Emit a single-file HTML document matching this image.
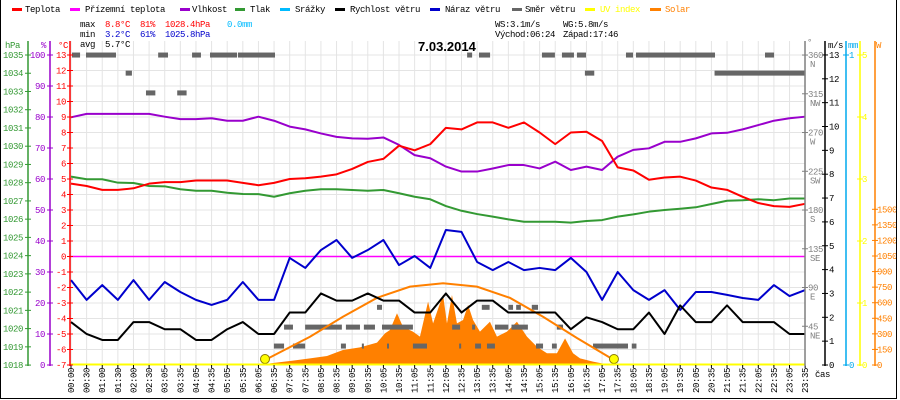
<!DOCTYPE html>
<html><head><meta charset="utf-8">
<style>
body{margin:0;background:#fff;}
svg{display:block;font-family:"Liberation Mono","DejaVu Sans Mono",monospace;font-size:9px;}
text{letter-spacing:-0.4px;}
</style></head>
<body>
<svg id="chart" width="900" height="400" viewBox="0 0 900 400">
<rect x="0" y="0" width="900" height="400" fill="#fff"/>
<g id="grid"></g>
<g id="series"></g>
<g id="axes"></g>
<g id="legend">
  <rect x="12" y="8" width="10" height="3" fill="#ff0000"/>
  <text x="25" y="12">Teplota</text>
  <rect x="70" y="8" width="10" height="3" fill="#ff00ff"/>
  <text x="85" y="12">Přízemní teplota</text>
  <rect x="180" y="8" width="10" height="3" fill="#9900cc"/>
  <text x="192" y="12">Vlhkost</text>
  <rect x="235" y="8" width="10" height="3" fill="#339933"/>
  <text x="250" y="12">Tlak</text>
  <rect x="280" y="8" width="10" height="3" fill="#00bbff"/>
  <text x="295" y="12">Srážky</text>
  <rect x="335" y="8" width="10" height="3" fill="#000"/>
  <text x="350" y="12">Rychlost větru</text>
  <rect x="430" y="8" width="10" height="3" fill="#0000cc"/>
  <text x="445" y="12">Náraz větru</text>
  <rect x="512" y="8" width="10" height="3" fill="#666"/>
  <text x="525" y="12">Směr větru</text>
  <rect x="585" y="8" width="10" height="3" fill="#ffff00"/>
  <text x="600" y="12" fill="#ffff00">UV index</text>
  <rect x="650" y="8" width="11" height="3" fill="#ff8000"/>
  <text x="665" y="12" fill="#ff8000">Solar</text>
</g>
<g id="stats">
  <text x="80" y="27">max</text>
  <text x="105" y="27" fill="#ff0000">8.8°C</text>
  <text x="140" y="27" fill="#ff0000">81%</text>
  <text x="165" y="27" fill="#ff0000">1028.4hPa</text>
  <text x="227" y="27" fill="#00bbff">0.0mm</text>
  <text x="80" y="37">min</text>
  <text x="105" y="37" fill="#0000cc">3.2°C</text>
  <text x="140" y="37" fill="#0000cc">61%</text>
  <text x="165" y="37" fill="#0000cc">1025.8hPa</text>
  <text x="80" y="47">avg</text>
  <text x="105" y="47">5.7°C</text>
  <text x="495" y="27">WS:3.1m/s</text>
  <text x="563" y="27">WG:5.8m/s</text>
  <text x="495" y="37">Východ:06:24</text>
  <text x="563" y="37">Západ:17:46</text>
  <text x="418" y="51" font-size="13" font-weight="bold" font-family="Liberation Sans, sans-serif" style="letter-spacing:0">7.03.2014</text>
</g>
<line x1="0.5" y1="0" x2="0.5" y2="398" stroke="#000"/>
<line x1="896.5" y1="0" x2="896.5" y2="398" stroke="#000"/>
<line x1="0" y1="398.5" x2="897" y2="398.5" stroke="#000"/>
</svg>
<script>
const timeLabels = ["00:00","00:30","01:00","01:30","02:00","02:30","03:05","03:35","04:05","04:35","05:05","05:35","06:05","06:35","07:05","07:35","08:05","08:35","09:05","09:35","10:05","10:35","11:05","11:35","12:05","12:35","13:05","13:35","14:05","14:35","15:05","15:35","16:05","16:35","17:05","17:35","18:05","18:35","19:05","19:35","20:05","20:35","21:05","21:35","22:05","22:35","23:05","23:35"];
const tempC = [4.7,4.55,4.3,4.3,4.4,4.7,4.8,4.8,4.9,4.9,4.9,4.75,4.6,4.75,5.0,5.05,5.15,5.3,5.65,6.1,6.3,7.15,6.85,7.25,8.3,8.2,8.65,8.65,8.3,8.65,8.0,7.25,8.0,8.05,7.45,5.75,5.55,4.95,5.1,5.15,4.9,4.45,4.3,3.85,3.45,3.25,3.2,3.4];
const apparentC = [0,0];
const humidity = [79.9,81,81,81,81,81,80.1,79.3,79.3,79.6,78.8,78.8,80.1,78.8,76.9,76,74.7,73.6,73.1,73,73.4,71,67.7,66.7,64,62.4,62.4,63.4,64.5,64.5,63.4,65.6,62.9,64,62.9,67.2,69.4,69.9,72,72,73.1,74.7,74.9,76,77.4,78.8,79.6,80.1];
const pressure = [1028.33,1028.19,1028.19,1028.0,1027.98,1027.82,1027.8,1027.64,1027.56,1027.56,1027.45,1027.38,1027.37,1027.23,1027.42,1027.56,1027.64,1027.64,1027.6,1027.56,1027.6,1027.42,1027.23,1027.09,1026.72,1026.46,1026.28,1026.14,1025.99,1025.86,1025.86,1025.86,1025.81,1025.9,1025.95,1026.14,1026.26,1026.41,1026.5,1026.57,1026.65,1026.83,1027.01,1027.04,1027.09,1027.04,1027.13,1027.13];
const windSpeed = [1.8,1.3,1.05,1.05,1.8,1.8,1.5,1.5,1.05,1.05,1.5,1.8,1.3,1.3,2.2,2.2,3.0,2.7,2.7,3.0,2.7,2.7,2.2,2.2,3.0,2.2,2.7,2.7,2.2,2.2,2.2,2.2,1.5,2.0,1.8,1.5,1.5,2.2,1.3,2.5,1.8,1.8,2.5,1.8,1.8,1.8,1.3,1.3];
const windGust = [3.56,2.73,3.35,2.73,3.56,2.73,3.48,3.06,2.73,2.52,2.73,3.48,2.73,2.73,4.49,4.07,4.82,5.24,4.49,4.82,5.24,4.19,4.57,4.07,5.66,5.58,4.32,3.98,4.32,3.98,4.07,3.98,4.49,3.9,2.73,3.9,3.14,2.73,3.14,2.31,3.06,3.06,2.94,2.81,2.73,3.35,2.89,3.14];
const solarT = [12.4,12.74,14.21,15.30,16.39,17.41,18.50,19.59,20.10,20.42,20.87,21.25,21.89,22.34,22.86,23.18,23.62,23.82,24.07,24.39,24.71,25.10,25.42,25.74,26.18,26.82,27.27,27.91,28.55,29.19,29.83,30.47,31.11,31.63,32.14,32.59,33.42,34.31,34.70];
const solarW = [0,16,42,64,87,145,170,215,305,337,498,369,321,273,610,401,594,674,401,674,401,434,578,434,321,417,273,321,417,273,176,113,113,257,113,64,32,6,0];
const sunT = [12.42,15.30,17.41,19.59,21.70,23.82,25.99,28.10,30.22,32.39,34.76];
const sunW = [48,272,465,647,755,787,755,647,465,260,48];
const dirFrom = [0.06,0.96,5.58,7.75,8.9,10.69,25.36,26.12,30.15,31.43,32.39,35.53,36.17,44.43,32.9,41.2,3.5,6.8,4.8,19.59,26.3,28.0,28.5,29.5,13.64,14.99,17.6,18.75,19.91,24.4,25.68,27.14,28.2,31.1,12.99,14.21,17.28,18.62,20.23,21.89,24.85,25.87,26.63,29.77,30.79,33.42,35.9];
const dirTo   = [0.58,2.88,6.21,8.32,10.63,13.06,25.68,26.83,30.98,32.2,32.97,35.98,41.23,45.01,33.5,47.0,3.9,7.4,5.4,19.91,26.8,28.3,28.8,29.9,14.21,17.34,18.5,19.46,21.89,24.91,25.87,28.0,29.25,31.5,13.64,14.99,17.6,18.75,20.29,22.79,24.97,26.25,27.14,30.22,31.1,35.66,36.2];
const dirDeg  = [360,360,360,360,360,360,360,360,360,360,360,360,360,360,339,339,339,316,316,67,67,67,67,67,44,44,44,44,44,44,44,44,44,44,22,22,22,22,22,22,22,22,22,22,22,22,22];
const tempTicks = [13,12,11,10,9,8,7,6,5,4,3,2,1,0,-1,-2,-3,-4,-5,-6,-7];
const humTicks = [100,90,80,70,60,50,40,30,20,10,0];
const pressTicks = [1035,1034,1033,1032,1031,1030,1029,1028,1027,1026,1025,1024,1023,1022,1021,1020,1019,1018];
const speedTicks = [13,12,11,10,9,8,7,6,5,4,3,2,1,0];
const dirTicks = [360,315,270,225,180,135,90,45];
const dirNames = ["N","NW","W","SW","S","SE","E","NE"];
const uvTicks = [5,4,3,2,1,0];
const solarTicks = [1500,1350,1200,1050,900,750,600,450,300,150,0];

const NS = "http://www.w3.org/2000/svg";
const X0 = 71, DX = 15.62, LEFT = 70, RIGHT = 805, TOP = 55, BOT = 365;
const xi = i => X0 + i * DX;
const yT = t => 256.5 - 15.5 * t;
const yH = h => BOT - 3.1 * h;
const yP = p => TOP + (1035 - p) * 18.24;
const yV = v => BOT - 23.85 * v;
const yW = w => BOT - w * 0.1038;
const yD = d => BOT - d * 0.861;
const yU = u => BOT - u * 62;

function mk(tag, attrs, parent) {
  const el = document.createElementNS(NS, tag);
  for (const k in attrs) el.setAttribute(k, attrs[k]);
  parent.appendChild(el);
  return el;
}
const grid = document.getElementById('grid');
const series = document.getElementById('series');
const axes = document.getElementById('axes');

// grid
tempTicks.forEach(t => {
  const l = mk('line', {x1: LEFT, x2: RIGHT, y1: yT(t), y2: yT(t), stroke: '#e4e4e4', 'stroke-width': 1}, grid);
  
  
});
timeLabels.forEach((lab, i) => {
  const l = mk('line', {x1: xi(i), x2: xi(i), y1: TOP - 14, y2: BOT, stroke: '#e4e4e4', 'stroke-width': 1}, grid);
  
  
  const tk = mk('line', {x1: xi(i), x2: xi(i), y1: BOT, y2: BOT + 3, stroke: '#000'}, axes);
  
  
  const tx = mk('text', {transform: `translate(${xi(i) + 3},368) rotate(-90)`, 'text-anchor': 'end'}, axes);
  tx.textContent = lab;
  
  
});

// solar area
{
  let d = `M${xi(solarT[0])},${BOT}`;
  solarT.forEach((t, k) => { d += ` L${xi(t)},${yW(solarW[k])}`; });
  d += ` L${xi(solarT[solarT.length - 1])},${BOT} Z`;
  const p = mk('path', {d: d, fill: '#ff8000'}, series);
  
  
}
// wind direction dashes
dirDeg.forEach((deg, k) => {
  const r = mk('rect', {x: xi(dirFrom[k]), y: yD(deg) - 2.5, width: Math.max(2, (dirTo[k] - dirFrom[k]) * DX), height: 5, fill: '#666'}, series);
  
  
});
// sun arc
{
  const pts = sunT.map((t, k) => `${xi(t)},${yW(sunW[k])}`).join(' ');
  const p = mk('polyline', {points: pts, fill: 'none', stroke: '#ff8000', 'stroke-width': 2}, series);
  
  
  [0, sunT.length - 1].forEach(k => {
    const c = mk('circle', {cx: xi(sunT[k]), cy: BOT - 6, r: 4.5, fill: '#ffff00', stroke: '#8a7a00', 'stroke-width': 1}, series);
    
    
  });
}
// apparent temperature line
{
  const l = mk('line', {x1: LEFT, x2: RIGHT, y1: yT(apparentC[0]), y2: yT(apparentC[1]), stroke: '#ff00ff', 'stroke-width': 1.5}, series);
  
  
}
function line(vals, yf, color, name) {
  const pts = vals.map((v, i) => `${xi(i)},${yf(v)}`).join(' ');
  const p = mk('polyline', {points: pts, fill: 'none', stroke: color, 'stroke-width': 2, 'stroke-linejoin': 'round'}, series);
  
  
}
line(windGust, yV, '#0000cc', 'wind-gust-line');
line(windSpeed, yV, '#000000', 'wind-speed-line');
line(pressure, yP, '#339933', 'pressure-line');
line(humidity, yH, '#9900cc', 'humidity-line');
line(tempC, yT, '#ff0000', 'temperature-line');
{
  const l = mk('line', {x1: LEFT, x2: RIGHT, y1: BOT - 0.5, y2: BOT - 0.5, stroke: '#ffff00', 'stroke-width': 2}, series);
  
  
}

// axes
function vaxis(x, color, name, ticks, yf, labelX, anchor, title, titleX) {
  const l = mk('line', {x1: x, x2: x, y1: TOP - 14, y2: BOT + 1, stroke: color, 'stroke-width': 1.5}, axes);
  
  
  ticks.forEach(t => {
    const tk = mk('line', {x1: x - 3, x2: x + 3, y1: yf(t), y2: yf(t), stroke: color}, axes);
    
    
    const tx = mk('text', {x: labelX, y: yf(t) + 3, fill: color, 'text-anchor': anchor}, axes);
    tx.textContent = t;
    
    
  });
  const tt = mk('text', {x: titleX, y: 48, fill: color}, axes);
  tt.textContent = title;
  
  
}
vaxis(28, '#339933', 'pressure-axis', pressTicks, yP, 3, 'start', 'hPa', 5);
vaxis(50, '#9900cc', 'humidity-axis', humTicks, yH, 45, 'end', '%', 41);
vaxis(70, '#ff0000', 'temperature-axis', tempTicks, yT, 66, 'end', '°C', 58);
vaxis(825, '#000000', 'wind-speed-axis', speedTicks, yV, 829, 'start', 'm/s', 828);
vaxis(846, '#00aaee', 'rain-axis', [1, 0], v => BOT - 310 * v, 849, 'start', 'mm', 848);
vaxis(860, '#ffff00', 'uv-axis', uvTicks, yU, 862, 'start', '', 862);
vaxis(875, '#ff8000', 'solar-axis', solarTicks, yW, 877, 'start', 'W', 876);
{
  const l = mk('line', {x1: RIGHT, x2: RIGHT, y1: TOP - 14, y2: BOT + 1, stroke: '#808080', 'stroke-width': 1.5}, axes);
  
  
  const tt = mk('text', {x: 807, y: 45, fill: '#808080'}, axes);
  tt.textContent = '°';
  
  
  dirTicks.forEach((d, k) => {
    const tk = mk('line', {x1: RIGHT - 3, x2: RIGHT + 3, y1: yD(d), y2: yD(d), stroke: '#808080'}, axes);
    
    
    const t1 = mk('text', {x: 808, y: yD(d) + 3, fill: '#808080'}, axes);
    t1.textContent = d;
    
    
    const t2 = mk('text', {x: 810, y: yD(d) + 12, fill: '#808080'}, axes);
    t2.textContent = dirNames[k];
    
    
  });
  const cas = mk('text', {x: 815, y: 377}, axes);
  cas.textContent = 'čas';
  
  
}
</script>
</body></html>
